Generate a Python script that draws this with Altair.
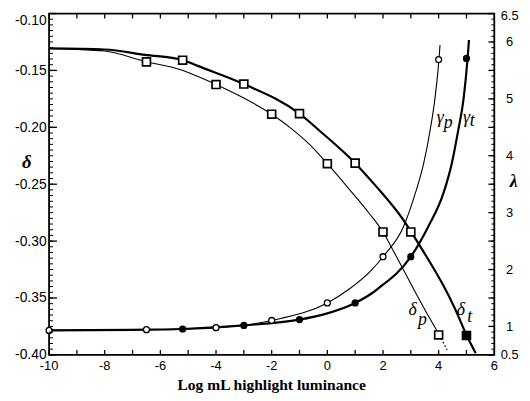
import altair as alt
import pandas as pd
import numpy as np

# ---------------- data ----------------
# delta_t curve (thick)
dt_curve_x = [-10, -8, -6.55, -5.2, -4.66, -3.0, -1.0, -0.28, 1.0, 1.74, 2.72, 3.0, 3.46, 4.19, 4.58, 5.0, 5.33]
dt_curve_y = [-0.1306, -0.1316, -0.1363, -0.1408, -0.1460, -0.1620, -0.1880, -0.2030, -0.2315, -0.2515,
              -0.2810, -0.2915, -0.3095, -0.3400, -0.3590, -0.3825, -0.3985]
# delta_p curve (thin)
dp_curve_x = [-10, -8, -6.55, -5.27, -4.67, -4.0, -2.0, -1.35, -0.64, 0.0, 0.79, 1.5, 2.0, 2.41, 3.04, 3.69, 4.02]
dp_curve_y = [-0.1306, -0.1330, -0.1422, -0.1495, -0.1552, -0.1624, -0.1885, -0.2000, -0.2150, -0.2320,
              -0.2545, -0.2755, -0.2920, -0.3103, -0.3393, -0.3683, -0.3822]
dp_tail_x = [4.02, 4.31]
dp_tail_y = [-0.3822, -0.3958]
# square markers
dt_pts_x = [-5.2, -3, -1, 1, 3, 5]
dt_pts_y = [-0.1410, -0.1620, -0.1880, -0.2315, -0.2920, -0.3830]
dt_pts_fill = ["white", "white", "white", "white", "white", "black"]
dp_pts_x = [-6.5, -4, -2, 0, 2, 4]
dp_pts_y = [-0.1425, -0.1624, -0.1885, -0.2320, -0.2920, -0.3825]

# gamma_p curve (thin) and gamma_t curve (thick), right axis lambda
gp_curve_x = [-10, -6.5, -4, -2, 0, 0.79, 1.56, 2, 2.74, 3.16, 3.46, 3.69, 3.87, 4.01, 4.05]
gp_curve_y = [0.93, 0.943, 0.978, 1.105, 1.413, 1.657, 1.975, 2.225, 2.757, 3.338, 3.86, 4.437, 5.018, 5.686, 5.947]
gt_curve_x = [-10, -7, -5.2, -3, -1, 0, 1, 1.56, 1.8, 3, 3.63, 4.17, 4.47, 4.70, 4.90, 5.04, 5.09]
gt_curve_y = [0.93, 0.94, 0.955, 1.018, 1.12, 1.23, 1.413, 1.57, 1.657, 2.225, 2.757, 3.338, 3.86, 4.437, 5.018, 5.714, 6.034]
gp_pts_x = [-10, -6.5, -4, -2, 0, 2, 4]
gp_pts_y = [0.93, 0.943, 0.978, 1.105, 1.413, 2.225, 5.69]
gt_pts_x = [-5.2, -3, -1, 1, 3, 5]
gt_pts_y = [0.955, 1.018, 1.12, 1.413, 2.225, 5.71]

# tick labels and texts
x_tick_values = [-10, -8, -6, -4, -2, 0, 2, 4, 6]
x_tick_text = ["-10", "-8", "-6", "-4", "-2", "0", "2", "4", "6"]
x_ticks = list(range(-10, 7))
x_title = "Log mL highlight luminance"
d_tick_labels = [-0.40, -0.35, -0.30, -0.25, -0.20, -0.15, -0.10]
l_tick_labels = [0.5, 1, 2, 3, 4, 5, 6, 6.5]
d_minor = [round(v, 3) for v in np.arange(-0.40, -0.0999, 0.005)]
l_minor = [round(v, 2) for v in np.arange(0.5, 6.501, 0.1)]
l_major = [round(v, 2) for v in np.arange(0.5, 6.501, 0.5)]

d_ann_text = ["δ", "p", "δ", "t"]
d_ann_x = [3.07, 3.42, 4.80, 5.12]
d_ann_y = [-0.361, -0.369, -0.361, -0.367]
g_ann_text = ["γ", "p", "γ", "t"]
g_ann_x = [4.06, 4.34, 5.0, 5.21]
g_ann_y = [4.67, 4.58, 4.66, 4.61]

# ---------------- chart ----------------
W, H = 450, 345
SERIF = "Liberation Serif"
SANS = "Liberation Sans"

xs = alt.Scale(domain=[-10, 6], nice=False, zero=False)
ds = alt.Scale(domain=[-0.40, -0.10], nice=False, zero=False)
ls = alt.Scale(domain=[0.5, 6.5], nice=False, zero=False)

def X(field="x"):
    return alt.X(f"{field}:Q", scale=xs, axis=None)

def YD(field="y", axis=None):
    return alt.Y(f"{field}:Q", scale=ds, axis=axis)

def YL(field="y", axis=None):
    return alt.Y(f"{field}:Q", scale=ls, axis=axis)

d_axis = alt.Axis(
    orient="left", values=d_tick_labels, ticks=False, tickSize=0, domain=False, grid=False,
    labelExpr="(datum.value < 0 ? '-' : '') + format(abs(datum.value), '.2f')",
    labelFont=SANS, labelFontSize=14, labelColor="black", labelPadding=3,
    labelBaseline={"condition": {"test": "abs(datum.value + 0.1) < 1e-6", "value": "top"}, "value": "middle"},
    title="δ", titleFont=SERIF, titleFontStyle="italic", titleFontSize=19, titleColor="black",
    titleAngle=0, titleX=-23, titleY=150, titleAlign="center", titleBaseline="middle",
)
l_axis = alt.Axis(
    orient="right", values=l_tick_labels, ticks=False, tickSize=0, domain=False, grid=False,
    labelExpr="datum.value + ''",
    labelFont=SANS, labelFontSize=13, labelColor="black", labelPadding=15, labelAlign="center",
    labelOffset={"condition": {"test": "datum.value > 6.4", "value": 2.5}, "value": 0},
    title="λ", titleFont=SERIF, titleFontStyle="italic", titleFontSize=18, titleColor="black",
    titleAngle=0, titleX=19, titleY=170, titleAlign="center", titleBaseline="middle",
)

dt_df = pd.DataFrame({"x": dt_curve_x, "y": dt_curve_y})
dp_df = pd.DataFrame({"x": dp_curve_x, "y": dp_curve_y})
dpt_df = pd.DataFrame({"x": dp_tail_x, "y": dp_tail_y})
gt_df = pd.DataFrame({"x": gt_curve_x, "y": gt_curve_y})
gp_df = pd.DataFrame({"x": gp_curve_x, "y": gp_curve_y})

layers = []
layers.append(alt.Chart(dt_df).mark_line(color="black", strokeWidth=2.2, interpolate="monotone")
              .encode(x=X(), y=YD(axis=d_axis)))
layers.append(alt.Chart(dp_df).mark_line(color="black", strokeWidth=1.1, interpolate="monotone")
              .encode(x=X(), y=YD()))
layers.append(alt.Chart(dpt_df).mark_line(color="black", strokeWidth=1.1, strokeDash=[2, 2])
              .encode(x=X(), y=YD()))
layers.append(alt.Chart(gt_df).mark_line(color="black", strokeWidth=2.2, interpolate="monotone")
              .encode(x=X(), y=YL(axis=l_axis)))
layers.append(alt.Chart(gp_df).mark_line(color="black", strokeWidth=1.1, interpolate="monotone")
              .encode(x=X(), y=YL()))

# markers
layers.append(alt.Chart(pd.DataFrame({"x": dp_pts_x, "y": dp_pts_y}))
              .mark_point(shape="square", size=64, filled=True, fill="white", stroke="black", strokeWidth=1.7, opacity=1)
              .encode(x=X(), y=YD()))
layers.append(alt.Chart(pd.DataFrame({"x": dt_pts_x, "y": dt_pts_y, "f": dt_pts_fill}))
              .mark_point(shape="square", size=64, filled=True, stroke="black", strokeWidth=1.7, opacity=1)
              .encode(x=X(), y=YD(), fill=alt.Fill("f:N", scale=None)))
layers.append(alt.Chart(pd.DataFrame({"x": gp_pts_x, "y": gp_pts_y}))
              .mark_point(shape="circle", size=36, filled=True, fill="white", stroke="black", strokeWidth=1.3, opacity=1)
              .encode(x=X(), y=YL()))
layers.append(alt.Chart(pd.DataFrame({"x": gt_pts_x, "y": gt_pts_y}))
              .mark_point(shape="circle", size=36, filled=True, fill="black", stroke="black", strokeWidth=1.3, opacity=1)
              .encode(x=X(), y=YL()))

# curve annotations
ann_d = pd.DataFrame({"x": d_ann_x, "y": d_ann_y, "t": d_ann_text})
ann_g = pd.DataFrame({"x": g_ann_x, "y": g_ann_y, "t": g_ann_text})
layers.append(alt.Chart(ann_d).mark_text(font=SERIF, fontStyle="italic", fontSize=18, color="black")
              .encode(x=X(), y=YD(), text="t:N"))
layers.append(alt.Chart(ann_g).mark_text(font=SERIF, fontStyle="italic", fontSize=18, color="black")
              .encode(x=X(), y=YL(), text="t:N"))

# x-axis tick labels and title (text marks)
layers.append(alt.Chart(pd.DataFrame({"x": x_tick_values, "t": x_tick_text}))
              .mark_text(font=SANS, fontSize=13, color="black", baseline="middle", align="center")
              .encode(x=X(), y=alt.value(H + 11.5), text="t:N"))
layers.append(alt.Chart(pd.DataFrame({"t": [x_title]}))
              .mark_text(font=SERIF, fontSize=15.7, fontWeight="bold", color="black", baseline="alphabetic", align="center")
              .encode(x=alt.value(W / 2), y=alt.value(H + 35.5), text="t:N"))

# inward ticks
layers.append(alt.Chart(pd.DataFrame({"v": d_minor})).mark_rule(color="black", strokeWidth=1)
              .encode(y=YD("v"), x=alt.value(0), x2=alt.value(4)))
layers.append(alt.Chart(pd.DataFrame({"v": d_tick_labels})).mark_rule(color="black", strokeWidth=1.3)
              .encode(y=YD("v"), x=alt.value(0), x2=alt.value(8)))
layers.append(alt.Chart(pd.DataFrame({"v": l_minor})).mark_rule(color="black", strokeWidth=1)
              .encode(y=YL("v"), x=alt.value(W), x2=alt.value(W - 3)))
layers.append(alt.Chart(pd.DataFrame({"v": l_major})).mark_rule(color="black", strokeWidth=1.3)
              .encode(y=YL("v"), x=alt.value(W), x2=alt.value(W - 6)))
layers.append(alt.Chart(pd.DataFrame({"v": x_ticks})).mark_rule(color="black", strokeWidth=1.3)
              .encode(x=X("v"), y=alt.value(H), y2=alt.value(H - 5)))
layers.append(alt.Chart(pd.DataFrame({"v": x_ticks})).mark_rule(color="black", strokeWidth=1.3)
              .encode(x=X("v"), y=alt.value(0), y2=alt.value(5)))

chart = (
    alt.layer(*layers)
    .resolve_scale(y="independent")
    .properties(
        width=W, height=H,
        padding={"left": 41.5, "top": 3.5, "right": 28, "bottom": 41},
        autosize=alt.AutoSizeParams(type="none"),
        background="white",
    )
    .configure_view(stroke="black", strokeWidth=1.8)
)

chart.save("out.html", embed_options={"renderer": "svg", "actions": False})
